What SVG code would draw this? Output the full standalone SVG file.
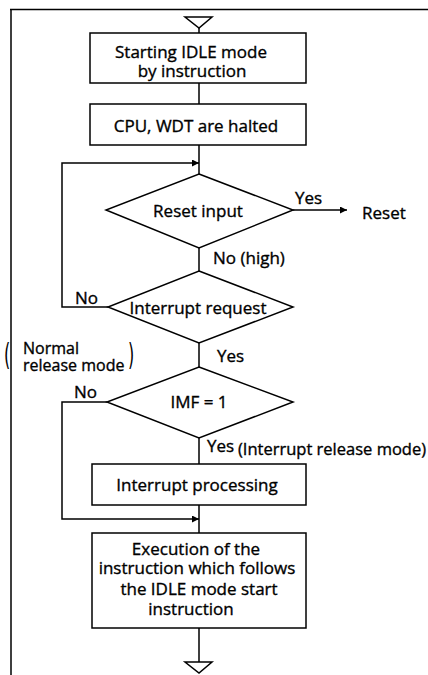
<svg xmlns="http://www.w3.org/2000/svg" width="428" height="675" viewBox="0 0 428 675">
<defs>
<style>
.s{fill:none;stroke:#000;stroke-width:1.5}
.b{fill:#fff;stroke:#000;stroke-width:1.5}
text{font-family:"Open Sans","DejaVu Sans",sans-serif;font-size:17px;fill:#000;stroke:#000;stroke-width:0.35}
.m{text-anchor:middle}
.sm{font-size:16.5px}
.nt{font-size:16px}
.pr{font-family:"DejaVu Sans",sans-serif;font-size:16px;stroke-width:0}
</style>
<marker id="ah" viewBox="0 0 10 10" refX="10" refY="5" markerWidth="9" markerHeight="7" markerUnits="userSpaceOnUse" orient="auto">
<path d="M0,0 L10,5 L0,10 Z" fill="#000"/>
</marker>
</defs>
<rect width="428" height="675" fill="#fff"/>
<g id="frame">
<path class="s" d="M10,9.5 H428 M11,9 V675"/>
</g>
<g id="connectors">
<path class="s" d="M199,28 V33 M199,83 V104 M199,145 V174 M199,248 V271 M199,343 V367 M199,438 V464 M199,505 V533 M199,628 V662"/>
<path class="s" d="M108,307 H62 V163 H199" marker-end="url(#ah)"/>
<path class="s" d="M107,402 H62 V519 H199" marker-end="url(#ah)"/>
<path class="s" d="M293,210 H347" marker-end="url(#ah)"/>
</g>
<g id="start">
<path class="s" d="M185,17 H212 L199,28 Z"/>
</g>
<g id="n1">
<rect class="b" x="90" y="33" width="216" height="50"/>
<text class="m" x="191" y="58">Starting IDLE mode</text>
<text class="m" x="192" y="77">by instruction</text>
</g>
<g id="n2">
<rect class="b" x="90" y="104" width="216" height="41"/>
<text class="m" x="196" y="132">CPU, WDT are halted</text>
</g>
<g id="d1">
<path class="b" d="M199,174 L293,210 L199,248 L106,210 Z"/>
<text class="m" x="198" y="217">Reset input</text>
<text x="295" y="204">Yes</text>
<text x="362" y="219">Reset</text>
<text x="213" y="264">No (high)</text>
</g>
<g id="d2">
<path class="b" d="M199,271 L293,307 L199,343 L108,307 Z"/>
<text class="m" x="198" y="314">Interrupt request</text>
<text x="75" y="304">No</text>
<text x="217" y="362">Yes</text>
</g>
<g id="note">
<text class="pr" transform="translate(4,365) scale(1,1.9)">(</text>
<text class="nt" x="23" y="354">Normal</text>
<text class="nt" x="23" y="371">release mode</text>
<text class="pr" transform="translate(128,365) scale(1,1.9)">)</text>
</g>
<g id="d3">
<path class="b" d="M199,367 L293,402 L199,438 L107,402 Z"/>
<text class="m" x="199" y="408">IMF = 1</text>
<text x="74" y="398">No</text>
<text x="207" y="452">Yes</text>
<text class="sm" x="238" y="455">(Interrupt release mode)</text>
</g>
<g id="n3">
<rect class="b" x="92" y="464" width="214" height="41"/>
<text class="m" x="197" y="491">Interrupt processing</text>
</g>
<g id="n4">
<rect class="b" x="92" y="533" width="214" height="95"/>
<text class="m" x="196" y="555">Execution of the</text>
<text class="m" x="197" y="574">instruction which follows</text>
<text class="m" x="199" y="595">the IDLE mode start</text>
<text class="m" x="191" y="615">instruction</text>
</g>
<g id="end">
<path class="s" d="M185,662 H212 L199,673 Z"/>
</g>
</svg>
